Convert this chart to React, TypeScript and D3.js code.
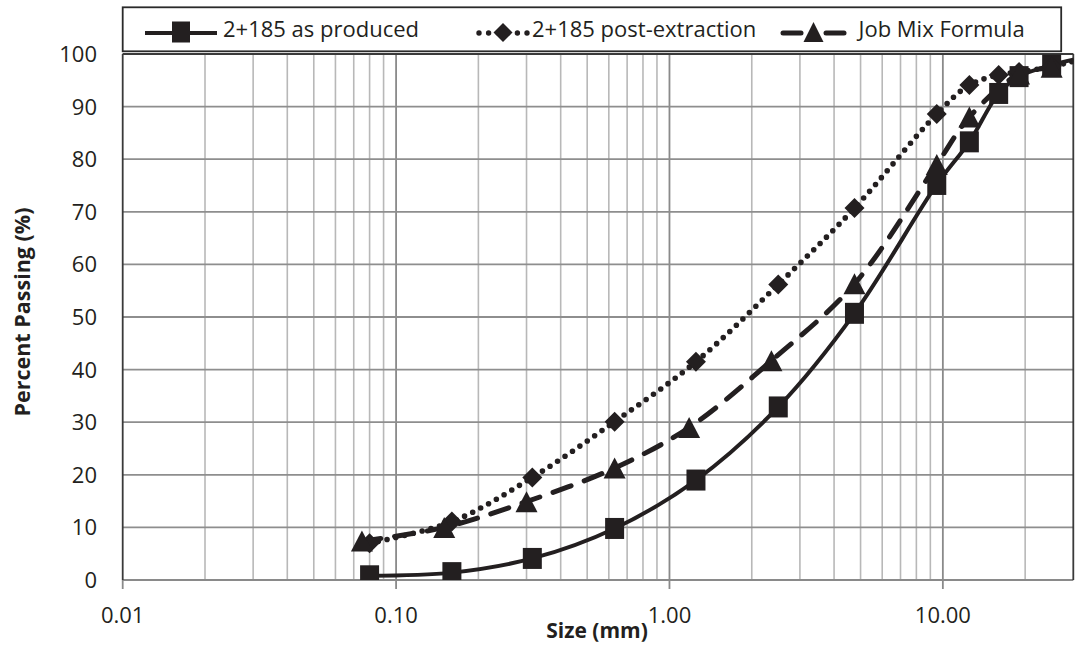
import React from "react";
import * as d3 from "d3";

// ---- Data (sieve size in mm, percent passing) ----
const producedSizes = [0.08, 0.16, 0.315, 0.63, 1.25, 2.5, 4.75, 9.5, 12.5, 16, 19, 25, 37.5];
const producedPassing = [0.8, 1.4, 4.1, 9.8, 19.0, 32.9, 50.7, 75.2, 83.3, 92.5, 95.7, 97.9, 100];

const postSizes = [0.08, 0.16, 0.315, 0.63, 1.25, 2.5, 4.75, 9.5, 12.5, 16, 19, 25, 37.5];
const postPassing = [7.0, 11.1, 19.5, 30.1, 41.5, 56.2, 70.7, 88.6, 94.1, 96.0, 96.6, 97.6, 100];

const jmfSizes = [0.075, 0.15, 0.3, 0.63, 1.18, 2.36, 4.75, 9.5, 12.5, 19, 25, 37.5];
const jmfPassing = [7.4, 10.0, 14.9, 21.3, 29.0, 41.7, 56.3, 79.0, 88.0, 96.2, 97.5, 100];

const seriesNames = ["2+185 as produced", "2+185 post-extraction", "Job Mix Formula"];

const xMajorTicks = [0.01, 0.1, 1, 10];
const xTickLabels = ["0.01", "0.10", "1.00", "10.00"];
const yTicks = [0, 10, 20, 30, 40, 50, 60, 70, 80, 90, 100];

const INK = "#231f20";
const FONT = "'Open Sans', 'Noto Sans', sans-serif";

type Pt = [number, number];

function zip(a: number[], b: number[]): Pt[] {
  return a.map((v, i) => [v, b[i]] as Pt);
}

function Square({ cx, cy, w = 19, h = 21 }: { cx: number; cy: number; w?: number; h?: number }) {
  return <rect x={cx - w / 2} y={cy - h / 2} width={w} height={h} fill={INK} />;
}
function Diamond({ cx, cy, r = 10 }: { cx: number; cy: number; r?: number }) {
  return <path d={`M${cx},${cy - r}L${cx + r},${cy}L${cx},${cy + r}L${cx - r},${cy}Z`} fill={INK} />;
}
function Triangle({ cx, cy, w = 22, h = 21 }: { cx: number; cy: number; w?: number; h?: number }) {
  return (
    <path
      d={`M${cx},${cy - h / 2}L${cx + w / 2},${cy + h / 2}L${cx - w / 2},${cy + h / 2}Z`}
      fill={INK}
    />
  );
}

export default function App() {
  const W = 1075;
  const H = 645;
  const left = 122.7;
  const right = 1073.3;
  const top = 54;
  const bottom = 580;

  const x = d3.scaleLog().domain([0.01, 30]).range([left, right]);
  const y = d3.scaleLinear().domain([0, 100]).range([bottom, top]);

  const line = d3
    .line<Pt>()
    .x((d) => x(d[0]))
    .y((d) => y(d[1]))
    .curve(d3.curveCatmullRom.alpha(0.5));

  const produced = zip(producedSizes, producedPassing);
  const post = zip(postSizes, postPassing);
  const jmf = zip(jmfSizes, jmfPassing);

  // minor gridlines
  const minor: number[] = [];
  xMajorTicks.forEach((d) => {
    for (let m = 2; m <= 9; m++) {
      const v = d * m;
      if (v < 30) minor.push(v);
    }
  });

  return (
    <svg
      width={W}
      height={H}
      style={{ position: "absolute", left: 0, top: 0, background: "#fff" }}
      fontFamily={FONT}
    >
      <defs>
        <clipPath id="plotClip">
          <rect x={left} y={top - 12} width={right - left} height={bottom - top + 12} />
        </clipPath>
      </defs>
      <rect x={0} y={0} width={W} height={H} fill="#fff" />

      {/* minor vertical gridlines */}
      {minor.map((v, i) => (
        <line key={"m" + i} x1={x(v)} x2={x(v)} y1={top} y2={bottom} stroke="#b8b8b8" strokeWidth={1.6} />
      ))}
      {/* major vertical gridlines */}
      {xMajorTicks.slice(1).map((v, i) => (
        <line key={"M" + i} x1={x(v)} x2={x(v)} y1={top} y2={bottom + 9} stroke="#8a8a8a" strokeWidth={1.8} />
      ))}
      <line x1={left} x2={left} y1={bottom} y2={bottom + 9} stroke="#8a8a8a" strokeWidth={1.8} />
      {/* horizontal gridlines */}
      {yTicks.slice(1).map((v, i) => (
        <line key={"h" + i} x1={left} x2={right} y1={y(v)} y2={y(v)} stroke="#8e8e8e" strokeWidth={1.8} />
      ))}
      {/* axes */}
      <line x1={left} x2={right} y1={bottom} y2={bottom} stroke="#8a8a8a" strokeWidth={2} />
      <line x1={left} x2={left} y1={top} y2={bottom} stroke="#3a3a3a" strokeWidth={1.8} />
      <line x1={left} x2={right} y1={top} y2={top} stroke="#3a3a3a" strokeWidth={1.8} />
      <line x1={right} x2={right} y1={top} y2={bottom} stroke="#3a3a3a" strokeWidth={1.8} />

      {/* series */}
      <g clipPath="url(#plotClip)">
        <path d={line(produced) || ""} fill="none" stroke={INK} strokeWidth={4} />
        <path
          d={line(post) || ""}
          fill="none"
          stroke={INK}
          strokeWidth={5.6}
          strokeLinecap="round"
          strokeDasharray="0 9"
        />
        <path
          d={line(jmf) || ""}
          fill="none"
          stroke={INK}
          strokeWidth={5}
          strokeLinecap="round"
          strokeDasharray="19 14"
        />
        {produced.map((d, i) => (
          <Square key={"s" + i} cx={x(d[0])} cy={y(d[1])} />
        ))}
        {post.map((d, i) => (
          <Diamond key={"d" + i} cx={x(d[0])} cy={y(d[1])} />
        ))}
        {jmf.map((d, i) => (
          <Triangle key={"t" + i} cx={x(d[0])} cy={y(d[1])} />
        ))}
      </g>

      {/* y tick labels */}
      {yTicks.map((v) => (
        <text key={"yl" + v} x={97} y={y(v)} dy="0.36em" textAnchor="end" fontSize={22} fill={INK}>
          {v}
        </text>
      ))}
      {/* x tick labels */}
      {xMajorTicks.map((v, i) => (
        <text key={"xl" + i} x={x(v)} y={623} textAnchor="middle" fontSize={22} fill={INK}>
          {xTickLabels[i]}
        </text>
      ))}

      {/* axis titles */}
      <text x={597} y={638} textAnchor="middle" fontSize={21} fontWeight="bold" fill={INK}>
        Size (mm)
      </text>
      <text
        transform={`translate(30,312) rotate(-90)`}
        textAnchor="middle"
        fontSize={21.5}
        fontWeight="bold"
        fill={INK}
      >
        Percent Passing (%)
      </text>

      {/* legend */}
      <rect x={122.7} y={7.3} width={938.5} height={44} fill="#fff" stroke="#2a2a2a" strokeWidth={1.8} />
      <g>
        <line x1={145} x2={217} y1={33} y2={33} stroke={INK} strokeWidth={4} />
        <Square cx={181} cy={32} w={18} h={21} />
        <text x={223} y={36.7} fontSize={22} fill={INK}>
          {seriesNames[0]}
        </text>

        <line
          x1={479}
          x2={528}
          y1={33}
          y2={33}
          stroke={INK}
          strokeWidth={5.4}
          strokeLinecap="round"
          strokeDasharray="0 9.6"
        />
        <Diamond cx={503} cy={32.5} r={9.5} />
        <text x={532} y={36.7} fontSize={22} fill={INK}>
          {seriesNames[1]}
        </text>

        <line x1={783} x2={801} y1={33} y2={33} stroke={INK} strokeWidth={5} strokeLinecap="round" />
        <line x1={826} x2={844} y1={33} y2={33} stroke={INK} strokeWidth={5} strokeLinecap="round" />
        <Triangle cx={813.5} cy={32} w={20} h={20} />
        <text x={858.5} y={36.7} fontSize={22} fill={INK}>
          {seriesNames[2]}
        </text>
      </g>
    </svg>
  );
}
